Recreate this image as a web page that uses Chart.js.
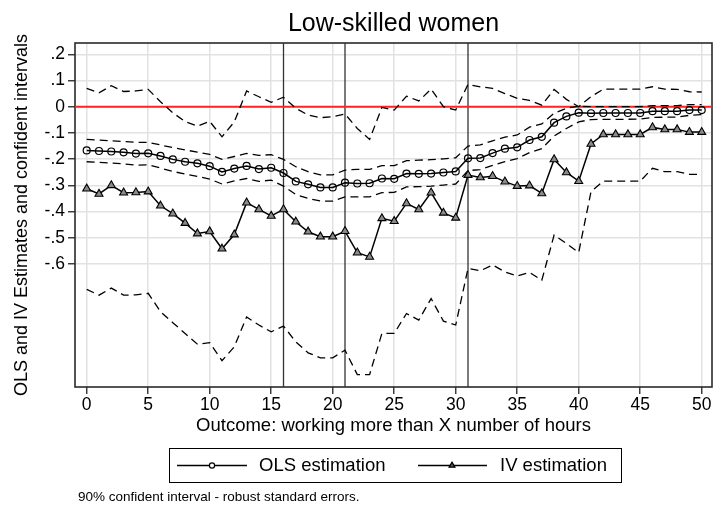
<!DOCTYPE html>
<html><head><meta charset="utf-8">
<script src="https://cdn.jsdelivr.net/npm/chart.js@4.4.1/dist/chart.umd.min.js"></script>
<style>html,body{margin:0;padding:0;background:#fff;} canvas{display:block;}</style>
</head><body>
<canvas id="c" width="713" height="507"></canvas>
<script>
const hours = [0,1,2,3,4,5,6,7,8,9,10,11,12,13,14,15,16,17,18,19,20,21,22,23,24,25,26,27,28,29,30,31,32,33,34,35,36,37,38,39,40,41,42,43,44,45,46,47,48,49,50];
const olsEstimate = [-0.167,-0.169,-0.171,-0.174,-0.179,-0.178,-0.188,-0.201,-0.210,-0.216,-0.227,-0.249,-0.236,-0.226,-0.238,-0.233,-0.253,-0.285,-0.296,-0.308,-0.308,-0.290,-0.293,-0.292,-0.274,-0.275,-0.255,-0.256,-0.255,-0.251,-0.247,-0.197,-0.196,-0.177,-0.160,-0.155,-0.127,-0.115,-0.061,-0.037,-0.023,-0.025,-0.024,-0.024,-0.024,-0.024,-0.017,-0.017,-0.017,-0.013,-0.013];
const olsUpper = [-0.125,-0.127,-0.130,-0.133,-0.136,-0.136,-0.146,-0.156,-0.165,-0.173,-0.182,-0.201,-0.190,-0.178,-0.186,-0.183,-0.201,-0.229,-0.248,-0.260,-0.260,-0.242,-0.239,-0.239,-0.225,-0.225,-0.206,-0.204,-0.202,-0.199,-0.195,-0.150,-0.146,-0.130,-0.116,-0.108,-0.078,-0.066,-0.025,-0.006,0.002,0.000,0.000,0.000,0.000,0.000,0.004,0.004,0.004,0.008,0.008];
const olsLower = [-0.210,-0.212,-0.215,-0.218,-0.223,-0.222,-0.234,-0.247,-0.257,-0.266,-0.276,-0.295,-0.283,-0.274,-0.285,-0.280,-0.303,-0.335,-0.350,-0.360,-0.360,-0.344,-0.344,-0.344,-0.328,-0.327,-0.306,-0.305,-0.303,-0.299,-0.295,-0.244,-0.240,-0.224,-0.210,-0.198,-0.175,-0.160,-0.112,-0.083,-0.058,-0.049,-0.048,-0.048,-0.048,-0.047,-0.041,-0.040,-0.040,-0.033,-0.030];
const ivEstimate = [-0.313,-0.333,-0.300,-0.328,-0.327,-0.324,-0.378,-0.408,-0.444,-0.484,-0.476,-0.542,-0.488,-0.366,-0.392,-0.417,-0.392,-0.439,-0.477,-0.496,-0.496,-0.475,-0.557,-0.573,-0.426,-0.437,-0.369,-0.392,-0.328,-0.405,-0.424,-0.261,-0.270,-0.265,-0.286,-0.303,-0.301,-0.331,-0.201,-0.251,-0.284,-0.142,-0.106,-0.106,-0.106,-0.106,-0.079,-0.087,-0.087,-0.097,-0.097];
const ivUpper = [0.070,0.053,0.080,0.058,0.060,0.066,0.019,-0.023,-0.057,-0.074,-0.056,-0.115,-0.058,0.060,0.038,0.017,0.036,-0.006,-0.032,-0.042,-0.038,-0.028,-0.083,-0.125,-0.003,-0.013,0.040,0.022,0.067,0.000,-0.013,0.085,0.076,0.070,0.050,0.032,0.024,0.006,0.066,0.028,0.000,0.038,0.067,0.067,0.067,0.067,0.076,0.067,0.066,0.057,0.056];
const ivLower = [-0.697,-0.719,-0.692,-0.719,-0.718,-0.712,-0.782,-0.824,-0.865,-0.906,-0.900,-0.969,-0.916,-0.802,-0.833,-0.859,-0.837,-0.897,-0.939,-0.958,-0.958,-0.929,-1.022,-1.022,-0.865,-0.865,-0.789,-0.814,-0.732,-0.818,-0.833,-0.617,-0.626,-0.604,-0.630,-0.646,-0.632,-0.662,-0.490,-0.522,-0.556,-0.324,-0.284,-0.284,-0.284,-0.284,-0.235,-0.248,-0.248,-0.258,-0.258];
const xTickValues = [0,5,10,15,20,25,30,35,40,45,50];
const xTickLabels = ['0','5','10','15','20','25','30','35','40','45','50'];
const yTickValues = [0.2,0.1,0,-0.1,-0.2,-0.3,-0.4,-0.5,-0.6];
const yTickLabels = ['.2','.1','0','-.1','-.2','-.3','-.4','-.5','-.6'];
const referenceHours = [16,21,31];
const zeroLevel = [0];
const seriesNames = ['OLS estimation','IV estimation'];
const chartTitle = 'Low-skilled women';
const xTitle = 'Outcome: working more than X number of hours';
const yTitle = 'OLS and IV Estimates and confident intervals';
const footnote = '90% confident interval - robust standard errors.';

const X_MIN = -0.951, X_MAX = 50.837, Y_MIN = -1.0694, Y_MAX = 0.243;
const FONT = "'Liberation Sans', Arial, Helvetica, sans-serif";

const pts = arr => hours.map((h, i) => ({x: h, y: arr[i]}));
const dashed = (arr) => ({data: pts(arr), borderColor: '#000', borderWidth: 1.3, borderDash: [8, 5], pointRadius: 0, fill: false, tension: 0, order: 1});

const datasets = [
  {label: seriesNames[0], data: pts(olsEstimate), borderColor: '#000', borderWidth: 1.5, pointStyle: 'circle', pointRadius: 3.5, pointBorderWidth: 1.2, pointBorderColor: '#000', pointBackgroundColor: 'rgba(0,0,0,0)', tension: 0, order: 0},
  {label: seriesNames[1], data: pts(ivEstimate), borderColor: '#000', borderWidth: 1.5, pointStyle: 'triangle', pointRadius: 4.6, pointBorderWidth: 1.1, pointBorderColor: '#000', pointBackgroundColor: '#8a8a8a', tension: 0, order: 0},
  dashed(olsUpper), dashed(olsLower), dashed(ivUpper), dashed(ivLower),
  ...zeroLevel.map(z => ({data: [{x: X_MIN, y: z}, {x: X_MAX, y: z}], borderColor: '#ff2424', borderWidth: 2, pointRadius: 0, order: 5})),
  ...referenceHours.map(h => ({data: [{x: h, y: Y_MIN}, {x: h, y: Y_MAX}], borderColor: '#333', borderWidth: 1.3, pointRadius: 0, order: 6}))
];

const framePlugin = {
  id: 'frame',
  beforeDatasetsDraw(chart) {
    const {ctx, chartArea: a} = chart;
    ctx.save();
    ctx.strokeStyle = '#2a2a2a';
    ctx.lineWidth = 1.6;
    ctx.strokeRect(a.left, a.top, a.right - a.left, a.bottom - a.top);
    ctx.restore();
  }
};

const decorPlugin = {
  id: 'decor',
  afterDraw(chart) {
    const {ctx, chartArea: a} = chart;
    ctx.save();
    ctx.fillStyle = '#000';
    ctx.textBaseline = 'middle';
    // Title
    ctx.font = `25px ${FONT}`;
    ctx.textAlign = 'center';
    ctx.fillText(chartTitle, (a.left + a.right) / 2, 24.5);
    // Legend box
    ctx.strokeStyle = '#000';
    ctx.lineWidth = 1;
    ctx.strokeRect(169.5, 448.5, 452, 34);
    const ly = 465.5;
    ctx.lineWidth = 1.5;
    ctx.beginPath(); ctx.moveTo(177, ly); ctx.lineTo(247, ly); ctx.stroke();
    ctx.beginPath(); ctx.moveTo(418, ly); ctx.lineTo(487, ly); ctx.stroke();
    // OLS marker
    ctx.lineWidth = 1.2;
    ctx.fillStyle = '#fff';
    ctx.beginPath(); ctx.arc(212, ly, 2.6, 0, Math.PI * 2); ctx.fill(); ctx.stroke();
    // IV marker
    ctx.fillStyle = '#555';
    const r = 3.4, cx = 452;
    ctx.beginPath();
    ctx.moveTo(cx, ly - r);
    ctx.lineTo(cx + r * Math.sin(2 * Math.PI / 3), ly - r * Math.cos(2 * Math.PI / 3));
    ctx.lineTo(cx + r * Math.sin(4 * Math.PI / 3), ly - r * Math.cos(4 * Math.PI / 3));
    ctx.closePath(); ctx.fill(); ctx.stroke();
    ctx.fillStyle = '#000';
    ctx.font = `18.5px ${FONT}`;
    ctx.textAlign = 'left';
    ctx.fillText(seriesNames[0], 259, ly);
    ctx.fillText(seriesNames[1], 500, ly);
    // Footnote
    ctx.font = `13.5px ${FONT}`;
    ctx.fillText(footnote, 78, 497);
    ctx.restore();
  }
};

new Chart(document.getElementById('c'), {
  type: 'line',
  data: {datasets},
  options: {
    responsive: false,
    animation: false,
    devicePixelRatio: 1,
    events: [],
    layout: {padding: {top: 43, right: 1, bottom: 69, left: 0}, autoPadding: false},
    plugins: {legend: {display: false}, tooltip: {enabled: false}, title: {display: false}},
    scales: {
      x: {
        type: 'linear', min: X_MIN, max: X_MAX,
        afterBuildTicks: s => { s.ticks = xTickValues.map(v => ({value: v})); },
        afterFit: s => { s.height = 51; },
        ticks: {padding: 1, color: '#000', font: {family: FONT, size: 17.5}, maxRotation: 0, autoSkip: false,
          callback: v => { const i = xTickValues.findIndex(t => Math.abs(t - v) < 1e-9); return i >= 0 ? xTickLabels[i] : ''; }},
        grid: {color: '#e2e2e2', lineWidth: 1.5, drawTicks: true, tickLength: 7, tickColor: '#333', tickWidth: 1.4},
        border: {display: false},
        title: {display: true, text: xTitle, color: '#000', font: {family: FONT, size: 18.5}, padding: {top: 0, bottom: 0.5}}
      },
      y: {
        type: 'linear', min: Y_MIN, max: Y_MAX,
        afterBuildTicks: s => { s.ticks = yTickValues.map(v => ({value: v})); },
        afterFit: s => { s.width = 75; },
        ticks: {padding: 3, color: '#000', font: {family: FONT, size: 17.5}, autoSkip: false,
          callback: v => { const i = yTickValues.findIndex(t => Math.abs(t - v) < 1e-9); return i >= 0 ? yTickLabels[i] : ''; }},
        grid: {color: '#e2e2e2', lineWidth: 1.5, drawTicks: true, tickLength: 7, tickColor: '#333', tickWidth: 1.4},
        border: {display: false},
        title: {display: true, text: yTitle, color: '#000', font: {family: FONT, size: 18}, padding: {top: 11, bottom: 0}}
      }
    }
  },
  plugins: [framePlugin, decorPlugin]
});
</script>
</body></html>
